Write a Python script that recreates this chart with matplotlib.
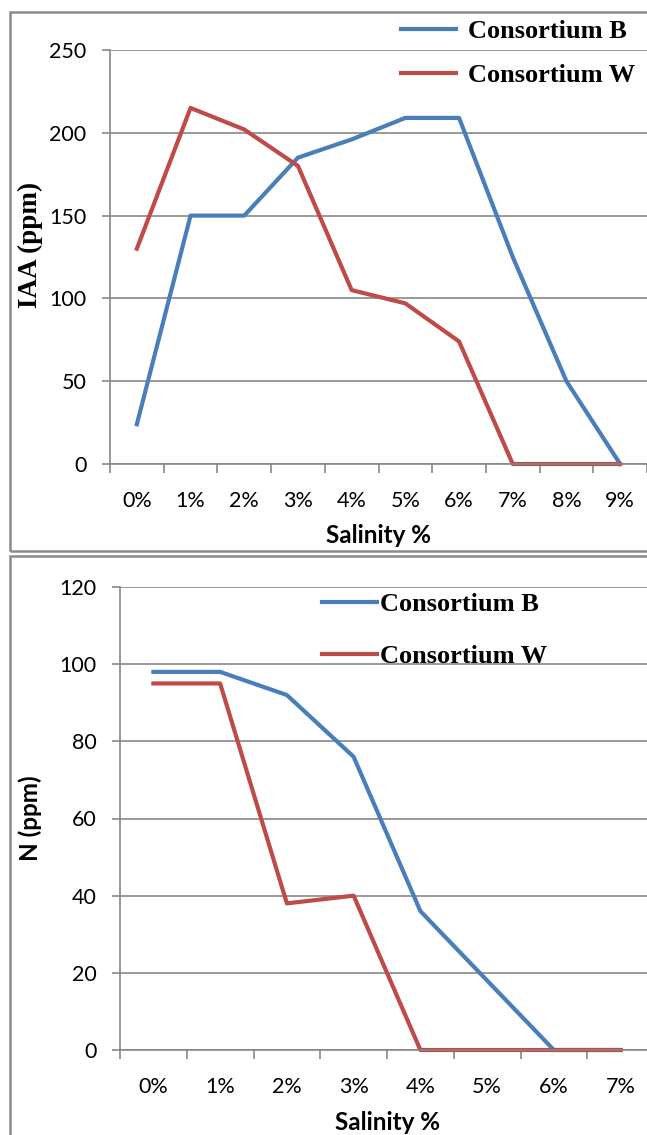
import matplotlib
matplotlib.use('Agg')
import matplotlib.pyplot as plt
from matplotlib.patches import Rectangle

# IAA panel data
iaa_salinity = ['0%', '1%', '2%', '3%', '4%', '5%', '6%', '7%', '8%', '9%']
iaa_b = [24, 150, 150, 185, 196, 209, 209, 125, 50, 0]
iaa_w = [130, 215, 202, 180, 105, 97, 74, 0, 0, 0]

# N panel data
n_salinity = ['0%', '1%', '2%', '3%', '4%', '5%', '6%', '7%']
n_b = [98, 98, 92, 76, 36, 18, 0, 0]
n_w = [95, 95, 38, 40, 0, 0, 0, 0]

BLUE = '#4A7EBB'
RED = '#BE4B48'
GRID = '#878787'
SANS = ['Lato', 'DejaVu Sans']
SERIF = ['Liberation Serif', 'DejaVu Serif']

W, H = 647, 1135
fig = plt.figure(figsize=(W / 100, H / 100), dpi=100)


def style_axes(ax, cats, ymax, ystep):
    x = list(range(len(cats)))
    ax.set_xlim(-0.5, len(cats) - 0.5)
    ax.set_ylim(0, ymax)
    ax.set_yticks(range(0, ymax + 1, ystep))
    ax.set_xticks([i - 0.5 for i in range(len(cats) + 1)], minor=False)
    ax.set_xticklabels([])
    ax.set_xticks(x, minor=True)
    ax.set_xticklabels(cats, minor=True)
    ax.tick_params(axis='x', which='minor', length=0, pad=19.5, labelsize=15.5)
    ax.tick_params(axis='x', which='major', length=6.5, width=1.2, color=GRID, direction='out')
    ax.tick_params(axis='y', length=6, width=1.2, color=GRID, direction='out', labelsize=15.5, pad=11)
    for lbl in ax.get_xticklabels(minor=True) + ax.get_yticklabels():
        lbl.set_fontfamily(SANS)
    ax.grid(axis='y', color=GRID, linewidth=1.2)
    ax.set_axisbelow(True)
    for s in ['top', 'right']:
        ax.spines[s].set_visible(False)
    for s in ['left', 'bottom']:
        ax.spines[s].set_color(GRID)
        ax.spines[s].set_linewidth(1.2)
    return x


# panel borders (right side runs off the picture)
fig.add_artist(Rectangle((10 / W, 1 - 551 / H), 1.5, 539 / H, transform=fig.transFigure,
                         fill=False, edgecolor='#8a8a8a', linewidth=1.8))
fig.add_artist(Rectangle((10 / W, -0.05), 1.5, 1 - 556 / H + 0.05, transform=fig.transFigure,
                         fill=False, edgecolor='#8a8a8a', linewidth=1.8))

# top: IAA
ax1 = fig.add_axes([110 / W, 1 - 464 / H, (647 - 110) / W, 414 / H])
x1 = style_axes(ax1, iaa_salinity, 250, 50)
ax1.plot(x1, iaa_b, color=BLUE, lw=3, solid_joinstyle='round', label='Consortium B', clip_on=False)
ax1.plot(x1, iaa_w, color=RED, lw=3, solid_joinstyle='round', label='Consortium W', clip_on=False)
ax1.set_xlabel('Salinity %', fontfamily=SANS, fontweight='bold', fontsize=17.5, labelpad=9)
ax1.set_ylabel('IAA (ppm)', fontfamily=SERIF, fontweight='bold', fontsize=19.5)
ax1.yaxis.set_label_coords(-0.125, 0.529)
ax1.legend(loc='upper left', bbox_to_anchor=(401 / W, 1 - 20 / H), bbox_transform=fig.transFigure,
           frameon=False, borderpad=0, borderaxespad=0,
           prop={'family': SERIF, 'weight': 'bold', 'size': 19},
           handlelength=2.1, handletextpad=0.45, labelspacing=0.77)

# bottom: N
ax2 = fig.add_axes([120 / W, 1 - 1050 / H, (654 - 120) / W, 463 / H])
x2 = style_axes(ax2, n_salinity, 120, 20)
ax2.plot(x2, n_b, color=BLUE, lw=3, solid_joinstyle='round', label='Consortium B', clip_on=False)
ax2.plot(x2, n_w, color=RED, lw=3, solid_joinstyle='round', label='Consortium W', clip_on=False)
ax2.set_xlabel('Salinity %', fontfamily=SANS, fontweight='bold', fontsize=17.5, labelpad=10)
ax2.set_ylabel('N (ppm)', fontfamily=SANS, fontweight='bold', fontsize=17.5)
ax2.yaxis.set_label_coords(-0.146, 0.5)
ax2.legend(loc='upper left', bbox_to_anchor=(322 / W, 1 - 593 / H), bbox_transform=fig.transFigure,
           frameon=False, borderpad=0, borderaxespad=0,
           prop={'family': SERIF, 'weight': 'bold', 'size': 19},
           handlelength=2.1, handletextpad=0.08, labelspacing=1.07)

fig.savefig('out.png', dpi=100)
